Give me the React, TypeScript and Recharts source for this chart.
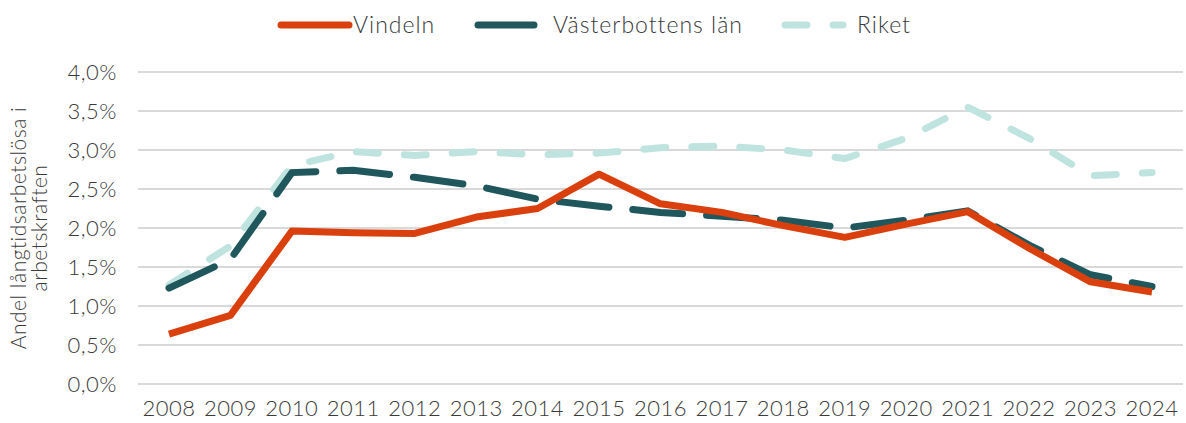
import { LineChart, Line, XAxis, YAxis, CartesianGrid, Legend } from 'recharts';

const years = ['2008', '2009', '2010', '2011', '2012', '2013', '2014', '2015', '2016', '2017', '2018', '2019', '2020', '2021', '2022', '2023', '2024'];
const vindeln = [0.64, 0.88, 1.96, 1.94, 1.93, 2.14, 2.25, 2.69, 2.31, 2.2, 2.03, 1.88, 2.05, 2.21, 1.74, 1.31, 1.18];
const vasterbotten = [1.23, 1.6, 2.71, 2.74, 2.65, 2.54, 2.37, 2.28, 2.2, 2.15, 2.1, 2.0, 2.1, 2.22, 1.78, 1.4, 1.25];
const riket = [1.27, 1.77, 2.8, 2.98, 2.93, 2.98, 2.94, 2.96, 3.03, 3.05, 3.0, 2.89, 3.15, 3.55, 3.15, 2.67, 2.71];
const yTicks = [0, 0.5, 1, 1.5, 2, 2.5, 3, 3.5, 4];

const data = years.map((year, i) => ({
  year,
  vindeln: vindeln[i],
  vasterbotten: vasterbotten[i],
  riket: riket[i],
}));

const FONT = 'Lato, "Open Sans", sans-serif';
const TEXT = '#3a3a3a';
const ORANGE = '#d9400e';
const TEAL = '#1f575c';
const MINT = '#bfe4df';

const fmt = (v: number) => v.toFixed(1).replace('.', ',') + '%';

function LegendContent() {
  const item = (label: string, color: string, dash: string | undefined, lineX: number, w: number, textX: number) => (
    <g>
      <line x1={lineX} x2={lineX + w} y1={25} y2={25} stroke={color} strokeWidth={7} strokeLinecap="round" strokeDasharray={dash} />
      <text x={textX} y={33} fontSize={23} fill={TEXT} fontFamily={FONT} fontWeight={300} letterSpacing={1}>{label}</text>
    </g>
  );
  return (
    <svg width={1186} height={50}>
      {item('Vindeln', ORANGE, undefined, 281, 68, 353)}
      {item('Västerbottens län', TEAL, undefined, 478, 56, 553)}
      {item('Riket', MINT, '22 26', 785, 58, 857)}
    </svg>
  );
}

function YLabel(props: any) {
  const { viewBox } = props;
  const cy = viewBox.y + viewBox.height / 2;
  return (
    <text transform={`rotate(-90, 0, ${cy})`} x={0} y={cy} textAnchor="middle" fontSize={21} fill={TEXT} fontFamily={FONT} fontWeight={300} letterSpacing={0.5}>
      <tspan x={0} dy={26}>Andel långtidsarbetslösa i</tspan>
      <tspan x={0} dy={21}>arbetskraften</tspan>
    </text>
  );
}

const tickStyle = { fontSize: 22, fill: TEXT, fontFamily: FONT, fontWeight: 300, letterSpacing: 0.5 };

export default function App() {
  return (
    <div style={{ position: 'absolute', left: 0, top: 0, width: 1186, height: 423, background: '#fff' }}>
      <LineChart width={1186} height={423} data={data} margin={{ top: 72, right: 3, bottom: 0, left: 0 }}>
        <CartesianGrid vertical={false} stroke="#d9d9d9" strokeWidth={2} />
        <XAxis
          dataKey="year"
          axisLine={false}
          tickLine={false}
          tickSize={0}
          tickMargin={16}
          height={39}
          interval={0}
          padding={{ left: 31, right: 31 }}
          tick={tickStyle}
        />
        <YAxis
          domain={[0, 4]}
          ticks={yTicks}
          tickFormatter={fmt}
          axisLine={false}
          tickLine={false}
          tickSize={0}
          tickMargin={21}
          width={138}
          tick={tickStyle}
          label={<YLabel />}
        />
        <Legend
          layout="horizontal"
          verticalAlign="middle"
          align="center"
          wrapperStyle={{ top: 0, left: 0, width: 1186 }}
          content={() => <LegendContent />}
        />
        <Line type="linear" dataKey="riket" stroke={MINT} strokeWidth={7} strokeLinecap="round" strokeDasharray="22 26" dot={false} isAnimationActive={false} />
        <Line type="linear" dataKey="vasterbotten" stroke={TEAL} strokeWidth={7} strokeLinecap="round" strokeDasharray="50 24" dot={false} isAnimationActive={false} />
        <Line type="linear" dataKey="vindeln" stroke={ORANGE} strokeWidth={7} strokeLinejoin="round" dot={false} isAnimationActive={false} />
      </LineChart>
    </div>
  );
}
